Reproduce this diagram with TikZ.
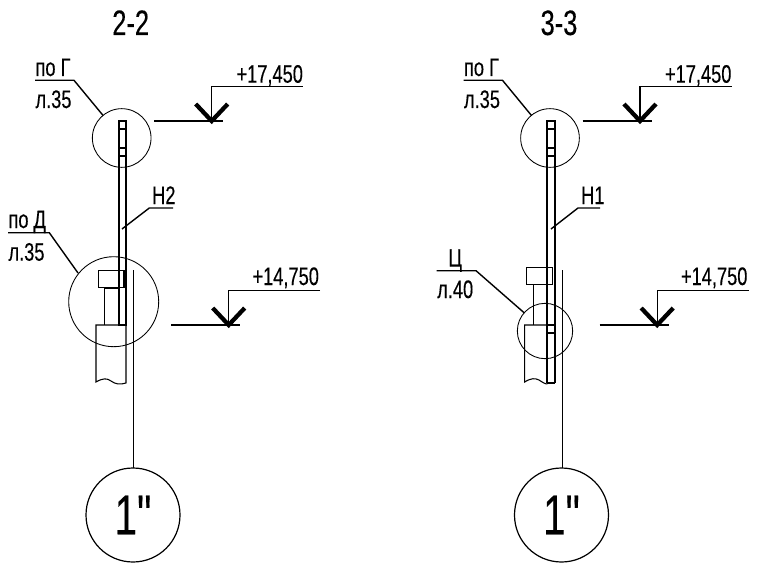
\documentclass[tikz,border=0pt]{standalone}
\usepackage{fontspec}
\setmainfont[FakeStretch=0.72,FakeBold=0.25]{Liberation Sans}
\newfontfamily\bubfont[FakeStretch=0.72,FakeBold=0.25]{Liberation Sans}

\tikzset{every picture/.style={line width=0.75pt}}
\tikzset{
	thinln/.style={line width=0.8pt},
	leaderln/.style={line width=1.05pt},
	plateln/.style={line width=1.6pt},
	levelln/.style={line width=1.6pt},
	tickln/.style={line width=3.2pt},
	detailc/.style={draw,circle,inner sep=0pt,outer sep=0pt,line width=0.65pt},
	bubble/.style={draw,circle,inner sep=0pt,outer sep=0pt,minimum size=70.5pt,line width=0.9pt,font=\bubfont\fontsize{42}{44}\selectfont},
	lbl/.style={anchor=base west,inner sep=0pt,font=\fontsize{19}{20}\selectfont},
	ttl/.style={anchor=base,inner sep=0pt,font=\fontsize{26.5}{28}\selectfont}
}

\begin{document}
\begin{tikzpicture}[x=0.75pt,y=0.75pt,yscale=-1,xscale=1]
	\useasboundingbox (0,0) rectangle (763,574);

	%Section 2-2
	% Text Node
	\node [ttl] (titleL) at (130.7,35) {2-2};
	%Shape: Circle
	\node [detailc,minimum size=44pt] (topL) at (121.7,138) {};
	\node [detailc,minimum size=67.5pt] (lowL) at (113.7,301.7) {};
	\node [bubble] (bubL) at (133,515) {1"};
	%Plate
	\draw [plateln] (118.7,325) -- (118.7,121) -- (126,121) -- (126,325) -- cycle ;
	\draw [plateln] (118.7,129) -- (126,129) ;
	\draw [plateln] (118.7,148) -- (126,148) ;
	\draw [plateln] (118.7,156) -- (126,156) ;
	%Bolt
	\draw [thinln] (98.3,270.7) -- (124,270.7) -- (124,287.7) -- (98.3,287.7) -- cycle ;
	\draw [thinln] (104.3,287.7) -- (104.3,325) ;
	\draw [plateln] (104.3,288) -- (118.7,288) ;
	%Lower block
	\draw [thinln] (126,325) -- (96,325) -- (96,382) .. controls (103,378) and (107,378) .. (111,381) .. controls (115,384) and (120,385) .. (126,383) -- cycle ;
	%Axis
	\coordinate (axisL) at (133.7,270);
	\draw [thinln] (axisL) -- (axisL |- bubL.north) ;
	%Level +17,450
	\coordinate (lvlaL) at (302.7,86.7);
	\coordinate (lvlbL) at (211.7,86.7);
	\coordinate (lvlcL) at (211.7,121);
	\draw [thinln] (lvlaL) -- (lvlbL) -- (lvlcL) ;
	\draw [levelln] (154,121) -- (223,121) ;
	\draw [tickln] (195.7,104) -- (lvlcL) -- (227.7,104) ;
	\node [lbl] (lvaL) at (236,82.7) {+17,450};
	%Level +14,750
	\coordinate (lvldL) at (320,290.3);
	\coordinate (lvleL) at (228.7,290.3);
	\coordinate (lvlfL) at (228.7,325);
	\draw [thinln] (lvldL) -- (lvleL) -- (lvlfL) ;
	\draw [levelln] (171,325.3) -- (240,325.3) ;
	\draw [tickln] (212.7,308) -- (lvlfL) -- (244.7,308) ;
	\node [lbl] (lvbL) at (252,285) {+14,750};
	%Leaders
	\coordinate (ldaL) at (35,80.3);
	\coordinate (ldbL) at (74,80.3);
	\draw [leaderln] (ldaL) -- (ldbL) -- (topL) ;
	\node [lbl] (pogL) at (35,76) {по Г};
	\node [lbl] (lstL) at (35,108) {л.35};
	\coordinate (ldcL) at (8,232.7);
	\coordinate (lddL) at (49.3,232.7);
	\draw [leaderln] (ldcL) -- (lddL) -- (78,273) ;
	\node [lbl] (podL) at (8,228) {по Д};
	\node [lbl] (lsdL) at (8,260.7) {л.35};
	\coordinate (ldeL) at (173,208);
	\coordinate (ldfL) at (149.3,208);
	\draw [leaderln] (ldeL) -- (ldfL) -- (122,229) ;
	\node [lbl] (nL) at (151.7,204) {Н2};

	%Section 3-3
	% Text Node
	\node [ttl] (titleR) at (559,35) {3-3};
	%Shape: Circle
	\node [detailc,minimum size=44pt] (topR) at (550,138) {};
	\node [detailc,minimum size=41.5pt] (lowR) at (545,331) {};
	\node [bubble] (bubR) at (561.5,515) {1"};
	%Plate
	\draw [plateln] (547.3,383) -- (547.3,121) -- (555,121) -- (555,383) ;
	\draw [thinln] (547.3,383) -- (555,383) ;
	\draw [plateln] (547.3,129) -- (555,129) ;
	\draw [thinln] (547.3,148) -- (555,148) ;
	\draw [thinln] (547.3,156) -- (555,156) ;
	\draw [plateln] (547.3,325) -- (555,325) ;
	\draw [plateln] (547.3,333) -- (555,333) ;
	%Bolt
	\draw [thinln] (526.7,267.3) -- (552.3,267.3) -- (552.3,284.3) -- (526.7,284.3) -- cycle ;
	\draw [thinln] (533.3,284.3) -- (533.3,325) ;
	%Lower block
	\draw [thinln] (547.3,325) -- (524.7,325) -- (524.7,382) .. controls (531,378) and (535,378) .. (539,380) .. controls (542,382) and (545,384) .. (547.3,384) ;
	%Axis
	\coordinate (axisR) at (562.7,270);
	\draw [thinln] (axisR) -- (axisR |- bubR.north) ;
	%Level +17,450
	\coordinate (lvlaR) at (731.5,86.7);
	\coordinate (lvlbR) at (640,86.7);
	\coordinate (lvlcR) at (640,121);
	\draw [thinln] (lvlaR) -- (lvlbR) -- (lvlcR) ;
	\draw [levelln] (582.5,121) -- (651.5,121) ;
	\draw [tickln] (624,104) -- (lvlcR) -- (656,104) ;
	\node [lbl] (lvaR) at (664.5,82.7) {+17,450};
	%Level +14,750
	\coordinate (lvldR) at (748.5,290.3);
	\coordinate (lvleR) at (657.2,290.3);
	\coordinate (lvlfR) at (657.2,325);
	\draw [thinln] (lvldR) -- (lvleR) -- (lvlfR) ;
	\draw [levelln] (599.5,325.3) -- (668.5,325.3) ;
	\draw [tickln] (641.2,308) -- (lvlfR) -- (673.2,308) ;
	\node [lbl] (lvbR) at (680.5,285) {+14,750};
	%Leaders
	\coordinate (ldaR) at (463.5,80.3);
	\coordinate (ldbR) at (502.5,80.3);
	\draw [leaderln] (ldaR) -- (ldbR) -- (topR) ;
	\node [lbl] (pogR) at (463.5,76) {по Г};
	\node [lbl] (lstR) at (463.5,108) {л.35};
	\coordinate (ldcR) at (436.7,270.7);
	\coordinate (lddR) at (476,270.7);
	\draw [leaderln] (ldcR) -- (lddR) -- (lowR) ;
	\node [lbl] (cR) at (448,266.7) {Ц};
	\node [lbl] (lsdR) at (436.7,298) {л.40};
	\coordinate (ldeR) at (600,208);
	\coordinate (ldfR) at (578,208);
	\draw [leaderln] (ldeR) -- (ldfR) -- (551,229) ;
	\node [lbl] (nR) at (580.7,204) {Н1};
\end{tikzpicture}
\end{document}
